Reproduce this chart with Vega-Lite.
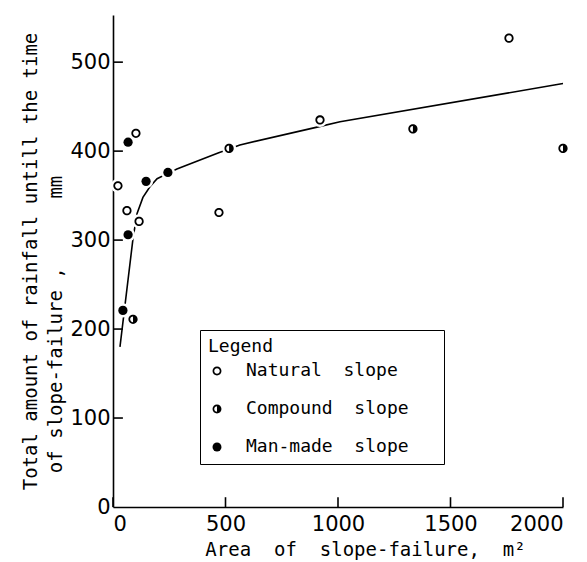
{
  "$schema": "https://vega.github.io/schema/vega-lite/v6.json",
  "width": 450,
  "height": 492,
  "autosize": "none",
  "padding": {"left": 113, "top": 15, "right": 24, "bottom": 55},
  "background": "white",
  "config": {
    "view": {"stroke": null},
    "font": "DejaVu Sans",
    "axis": {
      "domainColor": "black",
      "domainWidth": 1.6,
      "ticks": false,
      "tickSize": 0,
      "labelColor": "black",
      "labelFont": "DejaVu Sans",
      "labelFontSize": 21,
      "titleColor": "black",
      "titleFont": "DejaVu Sans Mono",
      "titleFontWeight": "normal",
      "grid": false
    }
  },
  "datasets": {
    "xticks": [{"v": 0}, {"v": 500}, {"v": 1000}, {"v": 1500}, {"v": 2000}],
    "yticks": [{"v": 100}, {"v": 200}, {"v": 300}, {"v": 400}, {"v": 500}],
    "curve": [
      {"area": 31, "rain": 180},
      {"area": 89, "rain": 302},
      {"area": 107, "rain": 330},
      {"area": 133, "rain": 348},
      {"area": 164, "rain": 360},
      {"area": 196, "rain": 369},
      {"area": 244, "rain": 375},
      {"area": 284, "rain": 380},
      {"area": 467, "rain": 398},
      {"area": 564, "rain": 407},
      {"area": 907, "rain": 427},
      {"area": 1009, "rain": 433},
      {"area": 2000, "rain": 476}
    ],
    "points": [
      {"area": 22, "rain": 361, "type": "Natural slope"},
      {"area": 62, "rain": 333, "type": "Natural slope"},
      {"area": 102, "rain": 420, "type": "Natural slope"},
      {"area": 116, "rain": 321, "type": "Natural slope"},
      {"area": 471, "rain": 331, "type": "Natural slope"},
      {"area": 920, "rain": 435, "type": "Natural slope"},
      {"area": 1760, "rain": 527, "type": "Natural slope"},
      {"area": 89, "rain": 211, "type": "Compound slope"},
      {"area": 516, "rain": 403, "type": "Compound slope"},
      {"area": 1333, "rain": 425, "type": "Compound slope"},
      {"area": 2000, "rain": 403, "type": "Compound slope"},
      {"area": 44, "rain": 221, "type": "Man-made slope"},
      {"area": 67, "rain": 306, "type": "Man-made slope"},
      {"area": 67, "rain": 410, "type": "Man-made slope"},
      {"area": 147, "rain": 366, "type": "Man-made slope"},
      {"area": 244, "rain": 376, "type": "Man-made slope"}
    ]
  },
  "layer": [
    {
      "data": {"name": "curve"},
      "mark": {"type": "line", "interpolate": "linear", "color": "black", "strokeWidth": 1.6},
      "encoding": {
        "x": {
          "field": "area", "type": "quantitative",
          "scale": {"domain": [0, 2000], "nice": false},
          "axis": {
            "values": [0, 500, 1000, 1500, 2000],
            "format": "d",
            "labelPadding": 6,
            "title": "Area\u00a0\u00a0of\u00a0\u00a0slope-failure,\u00a0\u00a0m\u00b2",
            "titleFontSize": 19,
            "titlePadding": 6,
            "titleX": 252
          }
        },
        "y": {
          "field": "rain", "type": "quantitative",
          "scale": {"domain": [0, 553], "nice": false},
          "axis": {
            "values": [0, 100, 200, 300, 400, 500],
            "labelPadding": 3,
            "title": ["Total amount of rainfall untill the time", "of\u00a0slope-failure\u00a0,\u00a0\u00a0\u00a0\u00a0\u00a0\u00a0mm\u00a0\u00a0\u00a0\u00a0\u00a0\u00a0\u00a0\u00a0\u00a0\u00a0\u00a0\u200b"],
            "titleFontSize": 19,
            "titleLineHeight": 25,
            "titlePadding": 4
          }
        }
      }
    },
    {
      "data": {"name": "xticks"},
      "mark": {"type": "rule", "color": "black", "strokeWidth": 1.6},
      "encoding": {
        "x": {"field": "v", "type": "quantitative"},
        "y": {"datum": 0, "type": "quantitative"},
        "y2": {"datum": 11}
      }
    },
    {
      "data": {"name": "yticks"},
      "mark": {"type": "rule", "color": "black", "strokeWidth": 1.6},
      "encoding": {
        "y": {"field": "v", "type": "quantitative"},
        "x": {"datum": 0, "type": "quantitative"},
        "x2": {"datum": 44}
      }
    },
    {
      "data": {"name": "points"},
      "mark": {"type": "point", "shape": "circle", "filled": true, "color": "white", "size": 200, "opacity": 1, "strokeWidth": 0},
      "encoding": {
        "x": {"field": "area", "type": "quantitative"},
        "y": {"field": "rain", "type": "quantitative"}
      }
    },
    {
      "data": {"name": "points"},
      "mark": {"type": "point", "filled": true, "color": "black", "size": 85, "opacity": 1, "strokeWidth": 0},
      "encoding": {
        "x": {"field": "area", "type": "quantitative"},
        "y": {"field": "rain", "type": "quantitative"},
        "shape": {
          "field": "type", "type": "nominal",
          "scale": {
            "domain": ["Natural slope", "Compound slope", "Man-made slope"],
            "range": [
              "M0,-1A1,1,0,0,1,0,1A1,1,0,0,1,0,-1ZM0,-0.62A0.62,0.62,0,0,0,0,0.62A0.62,0.62,0,0,0,0,-0.62Z",
              "M0,-1A1,1,0,0,1,0,1A1,1,0,0,1,0,-1ZM0,-0.62A0.62,0.62,0,0,0,0,0.62Z",
              "circle"
            ]
          },
          "legend": {
            "orient": "none",
            "legendX": 87,
            "legendY": 315,
            "title": "Legend\u00a0\u00a0\u00a0\u00a0\u00a0\u00a0\u00a0\u00a0\u00a0\u00a0\u00a0\u00a0\u00a0\u00a0\u00a0\u200b",
            "titleFont": "DejaVu Sans Mono",
            "titleFontSize": 18,
            "titleFontWeight": "normal",
            "titleColor": "black",
            "titlePadding": 6,
            "titleLimit": 400,
            "labelFont": "DejaVu Sans Mono",
            "labelFontSize": 18,
            "labelColor": "black",
            "labelOffset": 20,
            "labelLimit": 400,
            "labelExpr": "replace(datum.label, ' ', '\u00a0\u00a0')",
            "symbolSize": 80,
            "symbolFillColor": "black",
            "symbolStrokeWidth": 0,
            "rowPadding": 20,
            "padding": 8,
            "strokeColor": "black",
            "fillColor": "white"
          }
        }
      }
    }
  ]
}
